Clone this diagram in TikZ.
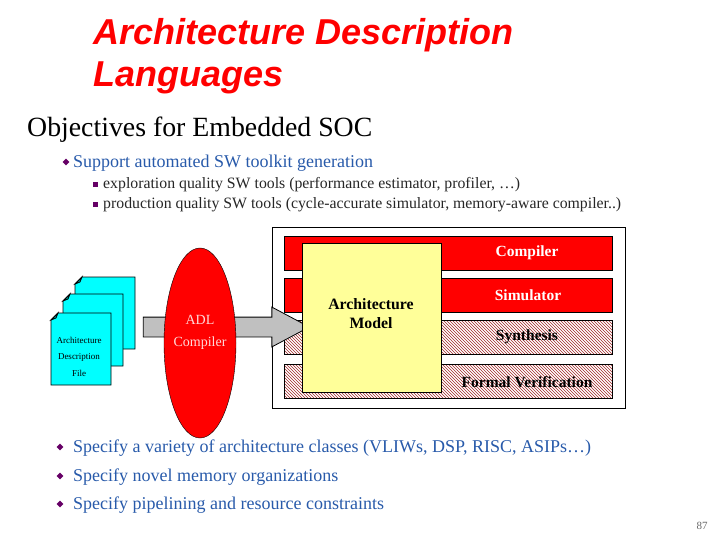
\documentclass[tikz,border=0pt]{standalone}
\usepackage{fontspec}
\setmainfont{Liberation Serif}
\newfontfamily\titlefont{Liberation Sans}
\usetikzlibrary{shapes.geometric,shapes.arrows,patterns,positioning}
\definecolor{slidered}{RGB}{255,0,0}
\definecolor{slideblue}{RGB}{40,90,170}
\definecolor{bulletpurple}{RGB}{102,0,102}
\definecolor{modelyellow}{RGB}{255,255,153}
\definecolor{pagecyan}{RGB}{0,255,255}
\definecolor{arrowgray}{RGB}{192,192,192}
\definecolor{hatchred}{RGB}{160,40,40}

\newcommand{\docpage}[3]{%
  \draw[fill=pagecyan,draw=black,thick]
    (#1+7,#2) -- (#1+60,#2) -- (#1+60,#2+72) -- (#1,#2+72) -- (#1,#2+7) -- cycle;
  \draw[thick,fill=pagecyan!60!black] (#1,#2+7) -- (#1+7,#2) -- (#1+5,#2+5) -- cycle;
  \coordinate (#3) at (#1+30,#2+36);
}

\begin{document}
\begin{tikzpicture}[x=1pt,y=-1pt]
\tikzset{
  txt/.style={anchor=west,inner sep=0pt},
  bulletdia/.style={diamond,fill=bulletpurple,inner sep=0pt,minimum size=7pt},
  bulletsq/.style={rectangle,fill=bulletpurple,inner sep=0pt,minimum size=5pt},
  bar/.style={rectangle,minimum width=328pt,minimum height=34pt,inner sep=0pt},
  redbar/.style={bar,fill=slidered,draw=black,line width=0.4pt},
  hatchbar/.style={bar,draw=black,line width=0.4pt,pattern=north west lines,pattern color=hatchred},
  barlabel/.style={inner sep=0pt,font=\fontsize{15.5}{18}\selectfont\bfseries}
}
\useasboundingbox (0,0) rectangle (720,540);

% title and headings
\node[txt,align=left,text=slidered,font=\titlefont\fontsize{36}{42}\selectfont\bfseries\itshape]
  (title) at (93,56) {Architecture Description\\Languages};
\node[txt,font=\fontsize{27.8}{32}\selectfont] (objectives) at (27,130) {Objectives for Embedded SOC};

\node[bulletdia] (b_support) at (66,162) {};
\node[txt,text=slideblue,font=\fontsize{18}{21}\selectfont] (support) at (73,163) {Support automated SW toolkit generation};
\node[bulletsq] (b_explore) at (95,185) {};
\node[txt,text=black!85,font=\fontsize{15.8}{18}\selectfont] (explore) at (103,185)
  {exploration quality SW tools (performance estimator, profiler, \dots)};
\node[bulletsq] (b_product) at (95,205) {};
\node[txt,text=black!85,font=\fontsize{15.8}{18}\selectfont] (product) at (103,205)
  {production quality SW tools (cycle-accurate simulator, memory-aware compiler..)};

% toolkit box
\draw[fill=white,line width=0.6pt] (272,227) rectangle (625,408);
\node[redbar] (bar_comp) at (448,253) {};
\node[redbar] (bar_sim) at (448,295) {};
\node[hatchbar] (bar_syn) at (448,337) {};
\node[hatchbar] (bar_fv) at (448,381) {};
\node[barlabel,text=white] at (527,253) {Compiler};
\node[barlabel,text=white] at (528,295) {Simulator};
\node[barlabel] at (527,337) {Synthesis};
\node[barlabel] at (527,382) {Formal Verification};

% gray block arrow behind the compiler
\node[single arrow,fill=arrowgray,draw=black,line width=0.8pt,minimum height=166pt,minimum width=39pt,
  single arrow head extend=10pt,single arrow tip angle=56,inner xsep=0pt,inner ysep=9.5pt]
  (adl_arrow) at (217,327) {};

\node[ellipse,fill=slidered,draw=black,minimum width=72pt,minimum height=190pt,inner sep=0pt]
  (adl) at (200,343) {};
\node[inner sep=0pt,text=red!15,font=\fontsize{14}{16}\selectfont] at (200,320) {ADL};
\node[inner sep=0pt,text=red!15,font=\fontsize{14}{16}\selectfont] at (200,343) {Compiler};

\node[rectangle,fill=modelyellow,draw=black,line width=0.4pt,minimum width=139pt,minimum height=149pt,
  inner sep=0pt] (model) at (371.5,317.5) {};
\node[align=center,inner sep=0pt,font=\fontsize{15.8}{19}\selectfont\bfseries] at (371,314)
  {Architecture\\Model};

% description files
\docpage{75}{277}{page_c}
\docpage{63}{294}{page_b}
\docpage{51}{313}{page_a}
\node[inner sep=0pt,font=\fontsize{9}{11}\selectfont] at (79,340) {Architecture};
\node[inner sep=0pt,font=\fontsize{9}{11}\selectfont] at (79,357) {Description};
\node[inner sep=0pt,font=\fontsize{9}{11}\selectfont] at (79,373) {File};

% bottom bullets
\node[bulletdia] (b_var) at (60,447) {};
\node[txt,text=slideblue,font=\fontsize{18}{21}\selectfont] (variety) at (73,448)
  {Specify a variety of architecture classes (VLIWs, DSP, RISC, ASIPs\dots)};
\node[bulletdia] (b_mem) at (60,476) {};
\node[txt,text=slideblue,font=\fontsize{18}{21}\selectfont] (memory) at (73,477)
  {Specify novel memory organizations};
\node[bulletdia] (b_pipe) at (60,504) {};
\node[txt,text=slideblue,font=\fontsize{18}{21}\selectfont] (pipeline) at (73,505)
  {Specify pipelining and resource constraints};

\node[inner sep=0pt,text=black!60,font=\fontsize{11}{13}\selectfont] (pagenum) at (702,526) {87};
\end{tikzpicture}
\end{document}
